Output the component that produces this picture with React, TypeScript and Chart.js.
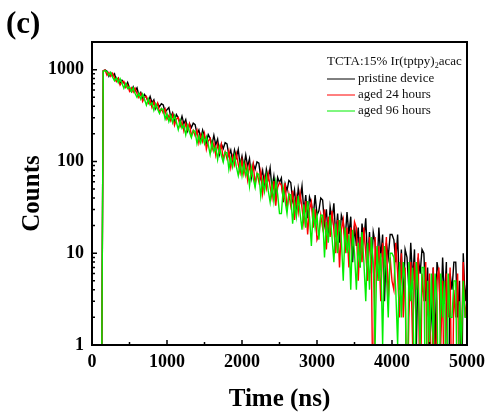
import React, { useEffect, useRef } from "react";
import { Chart, registerables } from "chart.js";

Chart.register(...registerables);

// Time channels (ns)
const timesNs = [
  125, 150, 175, 200, 225, 250, 275, 300, 325, 350, 375, 400, 425, 450, 475, 500,
  525, 550, 575, 600, 625, 650, 675, 700, 725, 750, 775, 800, 825, 850, 875, 900, 925, 950, 975, 1000,
  1025, 1050, 1075, 1100, 1125, 1150, 1175, 1200, 1225, 1250, 1275, 1300, 1325, 1350, 1375, 1400, 1425, 1450, 1475, 1500,
  1525, 1550, 1575, 1600, 1625, 1650, 1675, 1700, 1725, 1750, 1775, 1800, 1825, 1850, 1875, 1900, 1925, 1950, 1975, 2000,
  2025, 2050, 2075, 2100, 2125, 2150, 2175, 2200, 2225, 2250, 2275, 2300, 2325, 2350, 2375, 2400, 2425, 2450, 2475, 2500,
  2525, 2550, 2575, 2600, 2625, 2650, 2675, 2700, 2725, 2750, 2775, 2800, 2825, 2850, 2875, 2900, 2925, 2950, 2975, 3000,
  3025, 3050, 3075, 3100, 3125, 3150, 3175, 3200, 3225, 3250, 3275, 3300, 3325, 3350, 3375, 3400, 3425, 3450, 3475, 3500,
  3525, 3550, 3575, 3600, 3625, 3650, 3675, 3700, 3725, 3750, 3775, 3800, 3825, 3850, 3875, 3900, 3925, 3950, 3975, 4000,
  4025, 4050, 4075, 4100, 4125, 4150, 4175, 4200, 4225, 4250, 4275, 4300, 4325, 4350, 4375, 4400, 4425, 4450, 4475, 4500,
  4525, 4550, 4575, 4600, 4625, 4650, 4675, 4700, 4725, 4750, 4775, 4800, 4825, 4850, 4875, 4900, 4925, 4950, 4975, 5000,
];

const pristineCounts = [
  0, 975, 990, 959, 847, 927, 847, 899, 763, 809, 705, 767, 720, 657, 725, 633,
  578, 649, 586, 633, 523, 565, 481, 536, 500, 450, 510, 436, 470, 377, 427, 395, 426, 412, 343, 366,
  387, 305, 340, 279, 324, 299, 263, 311, 257, 285, 216, 257, 234, 261, 252, 200, 220, 174, 219, 187,
  160, 196, 179, 153, 192, 151, 175, 121, 155, 138, 160, 155, 116, 133, 98, 133, 111, 135, 91, 114,
  88, 118, 88, 107, 67, 94, 82, 99, 96, 66, 80, 54, 82, 65, 85, 51, 69, 44, 67, 59,
  66, 36, 57, 48, 62, 59, 38, 49, 29, 51, 38, 54, 28, 43, 24, 41, 35, 25, 43, 26,
  29, 40, 38, 21, 30, 15, 32, 23, 35, 15, 27, 13, 26, 22, 14, 28, 16, 25, 8, 20,
  12, 19, 7, 21, 14, 24, 8, 17, 6, 17, 13, 7, 19, 9, 16, 3, 13, 9, 16, 16,
  14, 8, 16, 4, 11, 3, 11, 9, 4, 13, 5, 11, 1, 9, 6, 11, 10, 3, 7, 1,
  2, 7, 1, 8, 6, 2, 9, 3, 8, 0, 6, 4, 8, 8, 2, 5, 0, 10, 3, 5,
];

const aged24Counts = [
  0, 970, 985, 867, 931, 845, 911, 814, 743, 804, 679, 734, 745, 638, 679, 582,
  634, 568, 626, 550, 495, 549, 450, 498, 511, 427, 463, 387, 443, 391, 433, 342, 375, 337, 372, 289,
  316, 277, 322, 248, 289, 301, 240, 269, 214, 259, 223, 257, 191, 217, 190, 219, 159, 196, 164, 201,
  136, 167, 178, 134, 158, 117, 153, 126, 154, 105, 127, 107, 130, 86, 114, 92, 121, 93, 75, 102,
  73, 93, 63, 91, 72, 93, 57, 74, 60, 78, 45, 67, 51, 73, 53, 40, 61, 33, 52, 59,
  55, 40, 58, 30, 44, 33, 48, 23, 40, 28, 45, 31, 21, 37, 16, 30, 36, 19, 30, 14,
  16, 26, 19, 30, 11, 25, 15, 29, 18, 10, 23, 7, 18, 23, 10, 19, 7, 19, 12, 22,
  19, 5, 15, 8, 19, 10, 5, 15, 8, 0, 15, 5, 12, 3, 13, 7, 15, 3, 9, 5,
  4, 13, 6, 2, 10, 2, 7, 0, 2, 8, 1, 8, 4, 10, 0, 6, 3, 8, 0, 6,
  0, 7, 0, 5, 7, 1, 5, 0, 6, 2, 7, 0, 4, 2, 6, 0, 1, 8, 2, 3,
];

const aged96Counts = [
  0, 960, 978, 950, 866, 931, 826, 756, 820, 722, 795, 711, 627, 706, 623, 647,
  574, 632, 550, 498, 554, 477, 541, 476, 410, 479, 413, 436, 360, 425, 370, 333, 377, 366, 289, 331,
  272, 318, 264, 315, 269, 222, 277, 230, 250, 195, 247, 208, 182, 218, 212, 156, 189, 159, 196, 156,
  185, 152, 119, 161, 128, 144, 105, 144, 116, 98, 126, 124, 82, 108, 87, 116, 87, 70, 97, 70,
  95, 70, 84, 54, 85, 65, 52, 74, 72, 42, 63, 47, 69, 48, 36, 57, 37, 60, 44, 27,
  27, 51, 37, 27, 44, 43, 21, 36, 25, 42, 27, 18, 34, 19, 37, 25, 12, 31, 19, 26,
  14, 26, 26, 9, 22, 13, 26, 15, 8, 21, 10, 23, 14, 5, 19, 10, 16, 4, 18, 10,
  4, 13, 7, 17, 8, 3, 13, 4, 15, 8, 1, 12, 5, 10, 1, 12, 6, 2, 10, 10,
  9, 4, 1, 8, 2, 8, 5, 0, 8, 3, 7, 0, 8, 4, 1, 7, 7, 0, 5, 1,
  6, 1, 6, 3, 0, 6, 2, 5, 0, 6, 2, 2, 5, 5, 0, 3, 1, 5, 2, 2,
];

const seriesLabels = ["pristine device", "aged 24 hours", "aged 96 hours"];
const seriesColors = ["#000000", "#ff0000", "#00ee00"];
const legendTitleParts = ["TCTA:15% Ir(tptpy)", "2", "acac"];
const panelLabel = "(c)";
const xTitle = "Time (ns)";
const yTitle = "Counts";
const xTickValues = [0, 1000, 2000, 3000, 4000, 5000];
const xMinorValues = [500, 1500, 2500, 3500, 4500];
const yTickValues = [1, 10, 100, 1000];

const SERIF = "'Liberation Serif', 'Times New Roman', Times, serif";
// zero counts cannot sit on a log axis: draw them just below the axis floor (clipped)
const ZERO_FLOOR = 0.1;

const yMinorValues: number[] = [];
for (const dec of [1, 10, 100, 1000]) {
  for (let m = 2; m <= 9; m++) {
    if (dec * m <= 2000) yMinorValues.push(dec * m);
  }
}

const decorPlugin = {
  id: "decor",
  afterDatasetsDraw(chart: any) {
    const { ctx, chartArea: a, scales } = chart;
    const x = scales.x;
    const y = scales.y;
    ctx.save();
    ctx.strokeStyle = "#000";
    ctx.lineWidth = 2;
    ctx.strokeRect(a.left, a.top, a.right - a.left, a.bottom - a.top);

    ctx.lineWidth = 1.5;
    ctx.beginPath();
    xTickValues.forEach((v) => {
      const px = x.getPixelForValue(v);
      ctx.moveTo(px, a.bottom);
      ctx.lineTo(px, a.bottom - 5);
    });
    xMinorValues.forEach((v) => {
      const px = x.getPixelForValue(v);
      ctx.moveTo(px, a.bottom);
      ctx.lineTo(px, a.bottom - 3);
    });
    yTickValues.forEach((v) => {
      const py = y.getPixelForValue(v);
      ctx.moveTo(a.left, py);
      ctx.lineTo(a.left + 5, py);
    });
    yMinorValues.forEach((v) => {
      const py = y.getPixelForValue(v);
      ctx.moveTo(a.left, py);
      ctx.lineTo(a.left + 3, py);
    });
    ctx.stroke();

    // legend
    const lx = 327;
    ctx.fillStyle = "#111";
    ctx.textBaseline = "middle";
    ctx.textAlign = "left";
    ctx.font = `13px ${SERIF}`;
    ctx.fillText(legendTitleParts[0], lx, 62);
    const w1 = ctx.measureText(legendTitleParts[0]).width;
    ctx.font = `8px ${SERIF}`;
    ctx.fillText(legendTitleParts[1], lx + w1, 66);
    const w2 = ctx.measureText(legendTitleParts[1]).width;
    ctx.font = `13px ${SERIF}`;
    ctx.fillText(legendTitleParts[2], lx + w1 + w2, 62);

    const rows = [79, 95, 111];
    seriesLabels.forEach((label, i) => {
      ctx.strokeStyle = seriesColors[i];
      ctx.lineWidth = 1;
      ctx.beginPath();
      ctx.moveTo(lx, rows[i]);
      ctx.lineTo(lx + 28, rows[i]);
      ctx.stroke();
      ctx.fillStyle = "#111";
      ctx.fillText(label, lx + 31, rows[i]);
    });

    // panel label
    ctx.fillStyle = "#000";
    ctx.font = `bold 31px ${SERIF}`;
    ctx.fillText(panelLabel, 6, 25);
    ctx.restore();
  },
};

export default function App() {
  const ref = useRef<HTMLCanvasElement>(null);

  useEffect(() => {
    document.body.style.margin = "0";
    const mk = (arr: number[]) =>
      timesNs.map((t, i) => ({ x: t, y: arr[i] > 0 ? arr[i] : ZERO_FLOOR }));
    const tickFont = { family: SERIF, size: 18, weight: "bold" as const };
    const titleFont = { family: SERIF, size: 25, weight: "bold" as const };
    const chart = new Chart(ref.current!, {
      type: "line",
      data: {
        datasets: [
          { label: seriesLabels[0], data: mk(pristineCounts), borderColor: seriesColors[0], order: 3 },
          { label: seriesLabels[1], data: mk(aged24Counts), borderColor: seriesColors[1], order: 2 },
          { label: seriesLabels[2], data: mk(aged96Counts), borderColor: seriesColors[2], order: 1 },
        ],
      },
      options: {
        animation: false,
        responsive: false,
        maintainAspectRatio: false,
        layout: { padding: { top: 42, right: 23, left: 0, bottom: 0 } },
        elements: {
          point: { radius: 0 },
          line: { borderWidth: 1.4, tension: 0 },
        },
        plugins: {
          legend: { display: false },
          tooltip: { enabled: false },
        },
        scales: {
          x: {
            type: "linear",
            min: 0,
            max: 5000,
            afterBuildTicks: (s: any) => {
              s.ticks = xTickValues.map((v) => ({ value: v }));
            },
            afterFit: (s: any) => {
              s.height = 74;
            },
            grid: { display: false, drawTicks: false },
            border: { display: false },
            ticks: {
              font: tickFont,
              color: "#000",
              padding: 7,
              maxRotation: 0,
              autoSkip: false,
              callback: (v: any) => String(v),
            },
            title: {
              display: true,
              text: xTitle,
              font: titleFont,
              color: "#000",
              padding: { top: 0, bottom: 4 },
            },
          },
          y: {
            type: "logarithmic",
            min: 1,
            max: 2000,
            afterBuildTicks: (s: any) => {
              s.ticks = yTickValues.map((v) => ({ value: v }));
            },
            afterFit: (s: any) => {
              s.width = 92;
            },
            grid: { display: false, drawTicks: false },
            border: { display: false },
            ticks: {
              font: tickFont,
              color: "#000",
              padding: 8,
              autoSkip: false,
              callback: (v: any) => String(v),
            },
            title: {
              display: true,
              text: yTitle,
              font: titleFont,
              color: "#000",
              padding: { top: 18, bottom: 0 },
            },
          },
        },
      },
      plugins: [decorPlugin],
    });
    return () => chart.destroy();
  }, []);

  return (
    <div style={{ width: 492, height: 419 }}>
      <canvas ref={ref} width={492} height={419} style={{ display: "block", width: 492, height: 419 }} />
    </div>
  );
}
